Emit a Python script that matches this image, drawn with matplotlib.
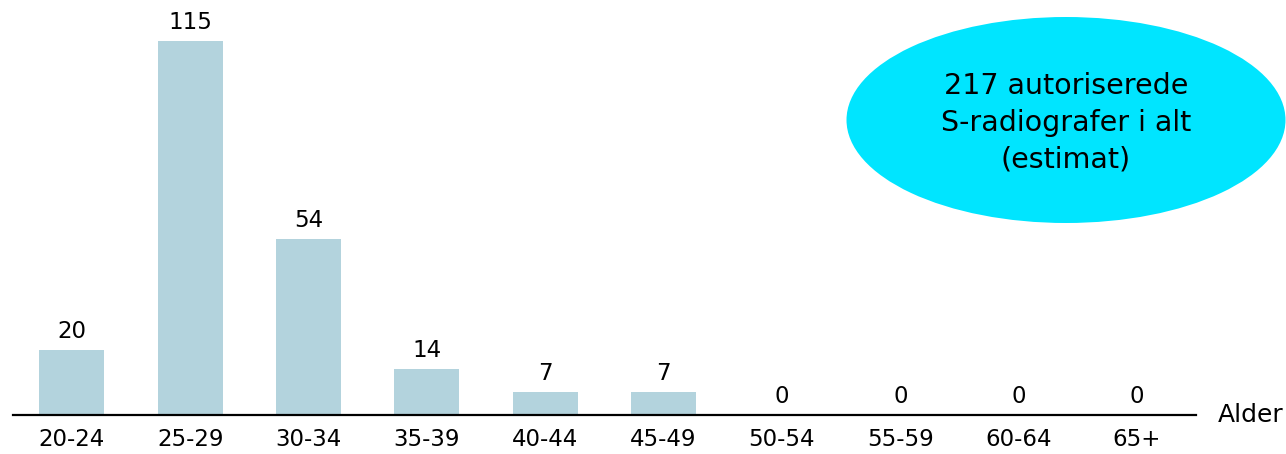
import matplotlib
matplotlib.use("Agg")
import matplotlib.pyplot as plt
from matplotlib.patches import Ellipse

# Age groups and counts of authorised S-radiographers
age_groups = ['20-24', '25-29', '30-34', '35-39', '40-44', '45-49',
              '50-54', '55-59', '60-64', '65+']
counts = [20, 115, 54, 14, 7, 7, 0, 0, 0, 0]
note = '217 autoriserede\nS-radiografer i alt\n(estimat)'

plt.rcParams['font.family'] = ['DejaVu Sans']

fig = plt.figure(figsize=(12.86, 4.54), dpi=100)
ax = fig.add_axes([0.0099, 0.0859, 0.9202, 0.9141])

x = range(len(age_groups))
ax.bar(x, counts, width=0.55, color='#b3d3dd')
for xi, v in zip(x, counts):
    ax.annotate(str(v), (xi, v), xytext=(0, 5), textcoords='offset points',
                ha='center', va='bottom', fontsize=16.5)

ax.set_xlim(-0.5, len(age_groups) - 0.5)
ax.set_ylim(0, 127.5)
ax.set_xticks(list(x))
ax.set_xticklabels(age_groups, fontsize=16.5)
ax.tick_params(axis='x', length=0, pad=9)
ax.set_yticks([])
for s in ['top', 'right', 'left']:
    ax.spines[s].set_visible(False)
ax.spines['bottom'].set_linewidth(1.6)

fig.text(1218 / 1286, 1 - 415 / 454, 'Alder', fontsize=18,
         ha='left', va='center')

# bubble with total
ell = Ellipse((1066 / 1286, 1 - 120 / 454), 439 / 1286, 206 / 454,
              transform=fig.transFigure, facecolor='#00e5ff', edgecolor='none')
fig.add_artist(ell)
fig.text(1066 / 1286, 1 - 123 / 454, note, fontsize=20.5, ha='center',
         va='center', linespacing=1.4)

fig.savefig('out.png', dpi=100)
